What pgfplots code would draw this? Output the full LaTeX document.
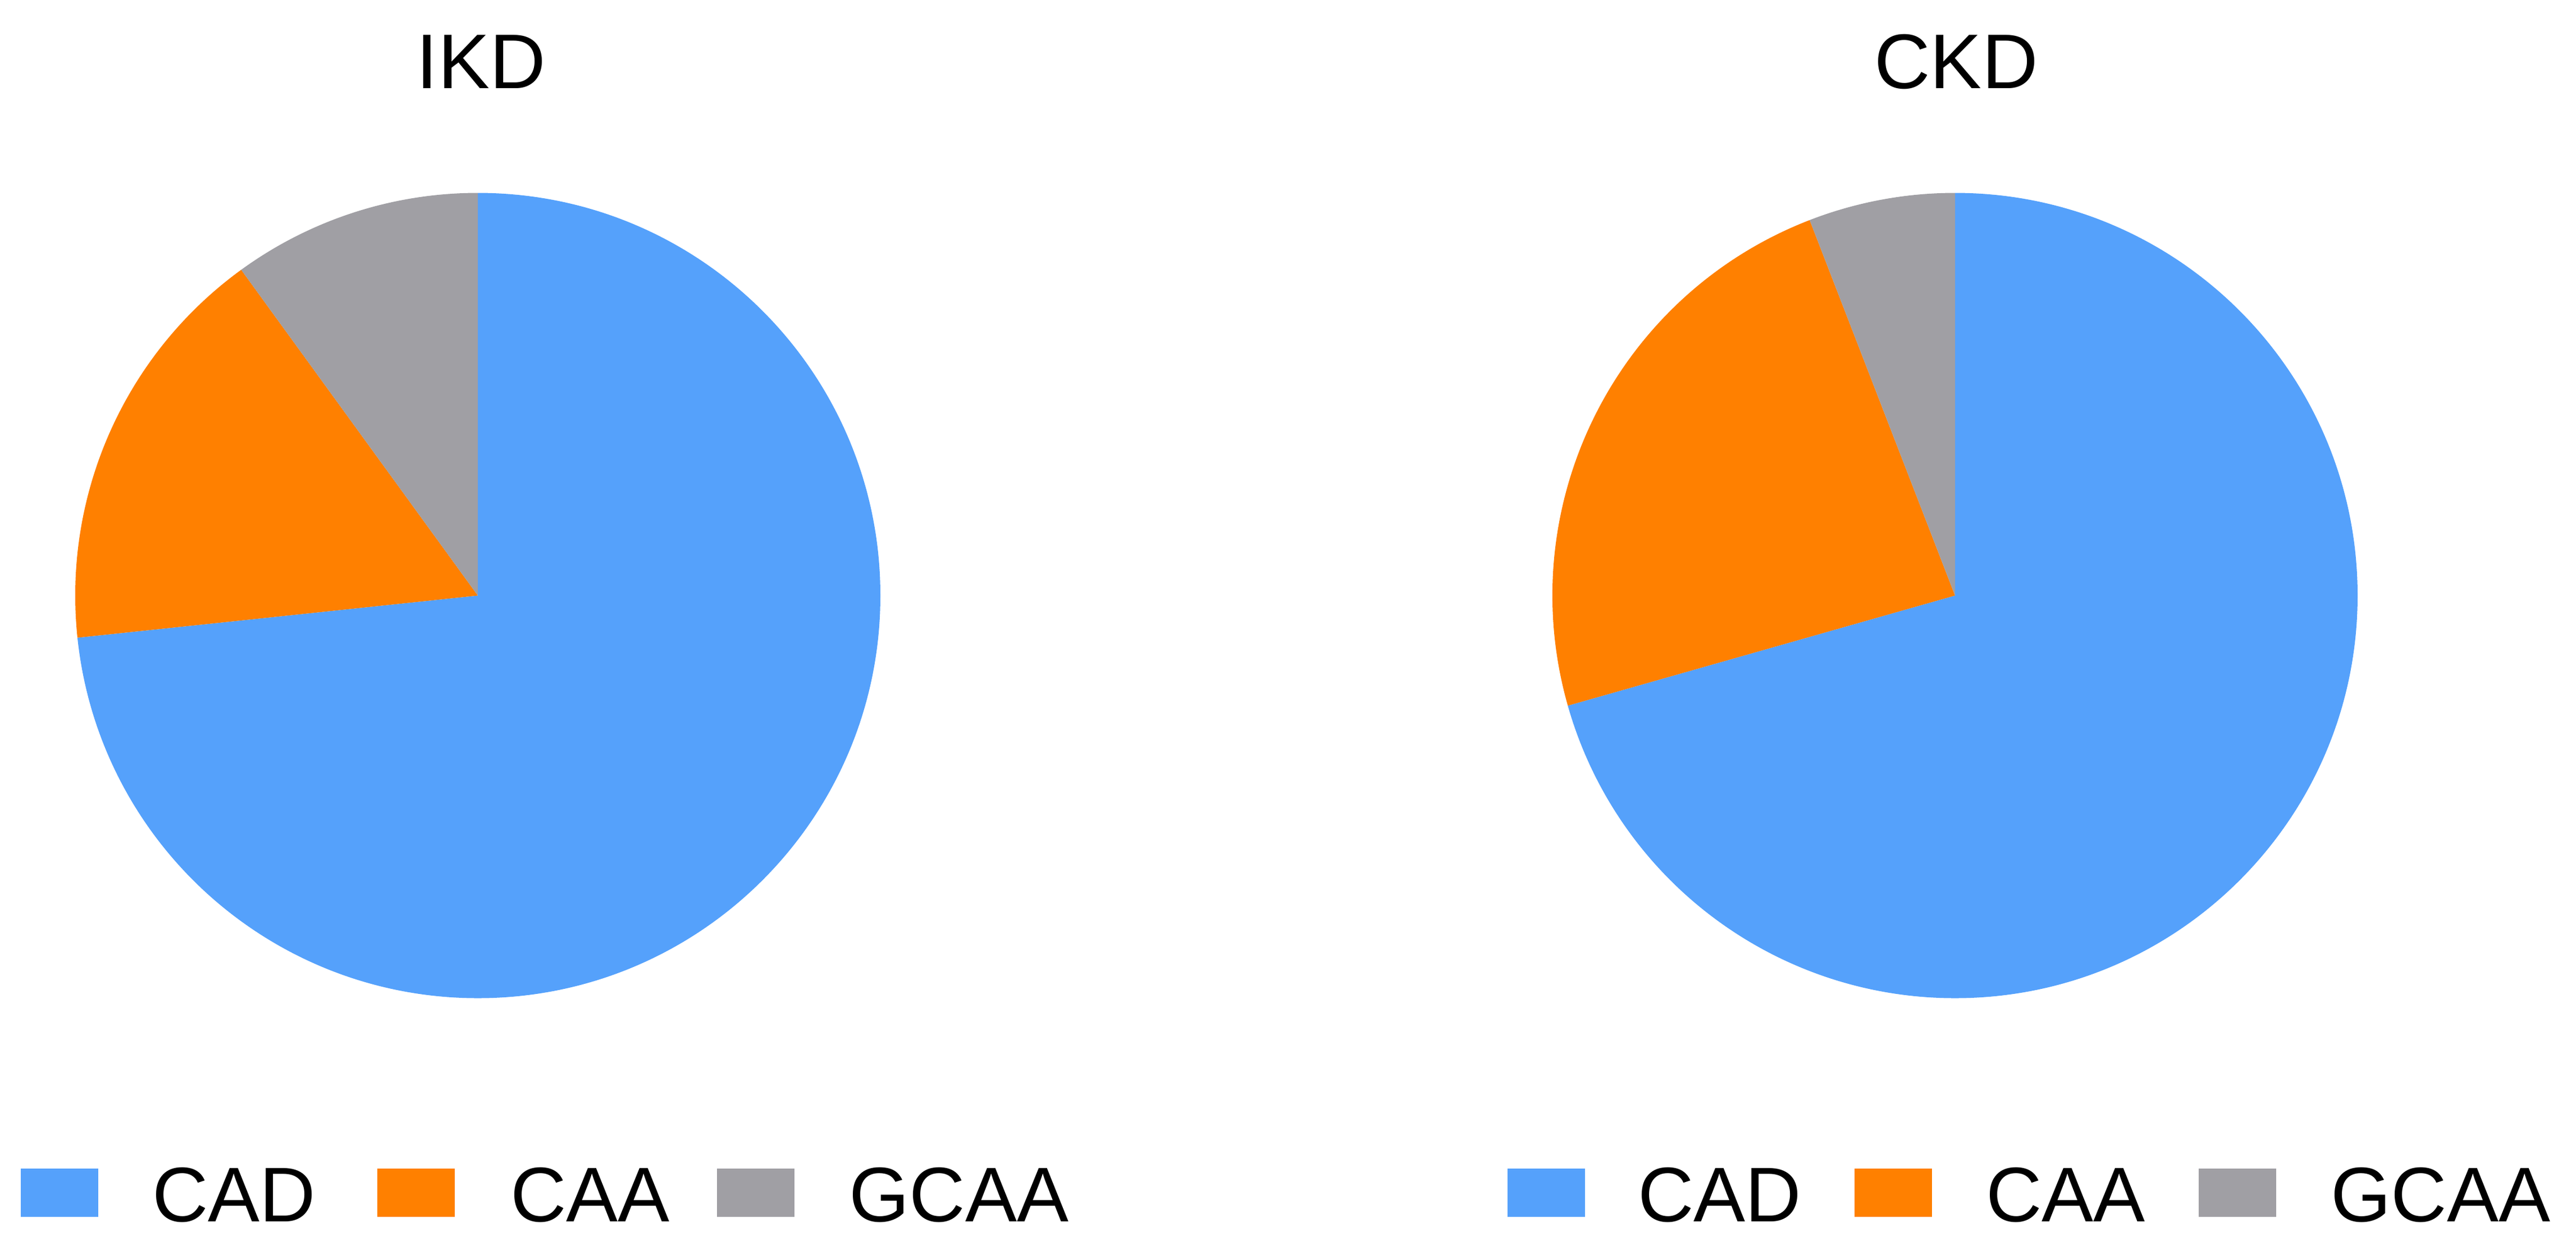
\documentclass[border=0pt]{standalone}
\usepackage{pgfplots}
\usepackage{pgfplotstable}
\pgfplotsset{compat=1.18}
\usepackage{fontspec}
\setmainfont{Liberation Sans}

\definecolor{cadblue}{RGB}{85,161,251}
\definecolor{caaorange}{RGB}{255,128,0}
\definecolor{gcaagray}{RGB}{160,159,164}

% shares in percent
\pgfplotstableread{
label share
CAD  73.33
CAA  16.67
GCAA 10.00
}\ikddata

\pgfplotstableread{
label share
CAD  70.59
CAA  23.53
GCAA 5.88
}\ckddata

% start/end angles (clockwise from 12 o'clock)
\newcommand\pieangles[1]{%
  \pgfplotstablegetelem{0}{share}\of#1\let\va\pgfplotsretval
  \pgfplotstablegetelem{1}{share}\of#1\let\vb\pgfplotsretval
  \pgfmathsetmacro\aA{90}%
  \pgfmathsetmacro\aB{90-3.6*\va}%
  \pgfmathsetmacro\aC{90-3.6*(\va+\vb)}%
  \pgfmathsetmacro\aD{-270}%
}

\newcommand\pieslice[3]{%
  \fill[#3] (axis cs:0,0) -- (axis cs:{cos(#1)},{sin(#1)})
    arc[start angle=#1, end angle=#2, radius=71.7pt] -- cycle;
}

\pgfplotsset{
  pieaxis/.style={
    hide axis, scale only axis, clip=false,
    width=143.4pt, height=143.4pt,
    xmin=-1, xmax=1, ymin=-1, ymax=1,
    anchor=center,
  },
}

% swatch and label x positions: #1..#6
\newcommand\legendrow[6]{%
  \fill[cadblue]   (#1,-208.1pt) rectangle ++(13.8pt,-8.6pt);
  \node[anchor=base west, inner sep=0pt] at (#2,-217.5pt) {CAD};
  \fill[caaorange] (#3,-208.1pt) rectangle ++(13.8pt,-8.6pt);
  \node[anchor=base west, inner sep=0pt] at (#4,-217.5pt) {CAA};
  \fill[gcaagray]  (#5,-208.1pt) rectangle ++(13.8pt,-8.6pt);
  \node[anchor=base west, inner sep=0pt] at (#6,-217.5pt) {GCAA};
}

\begin{document}
\begin{tikzpicture}
\fontsize{13.8pt}{16pt}\selectfont
\useasboundingbox (0,0) rectangle (458.8pt,-222.6pt);

% IKD
\pieangles{\ikddata}
\begin{axis}[pieaxis, at={(85.1pt,-106.05pt)}]
  \pieslice{\aA}{\aB}{cadblue}
  \pieslice{\aB}{\aC}{caaorange}
  \pieslice{\aC}{\aD}{gcaagray}
\end{axis}
\node[anchor=base] at (85.7pt,-15.7pt) {IKD};

% CKD
\pieangles{\ckddata}
\begin{axis}[pieaxis, at={(348.2pt,-106.05pt)}]
  \pieslice{\aA}{\aB}{cadblue}
  \pieslice{\aB}{\aC}{caaorange}
  \pieslice{\aC}{\aD}{gcaagray}
\end{axis}
\node[anchor=base] at (348.4pt,-15.7pt) {CKD};

\legendrow{3.7pt}{26.9pt}{67.2pt}{90.7pt}{127.7pt}{151.0pt}
\legendrow{268.5pt}{291.5pt}{330.3pt}{353.5pt}{391.6pt}{414.9pt}
\end{tikzpicture}
\end{document}
